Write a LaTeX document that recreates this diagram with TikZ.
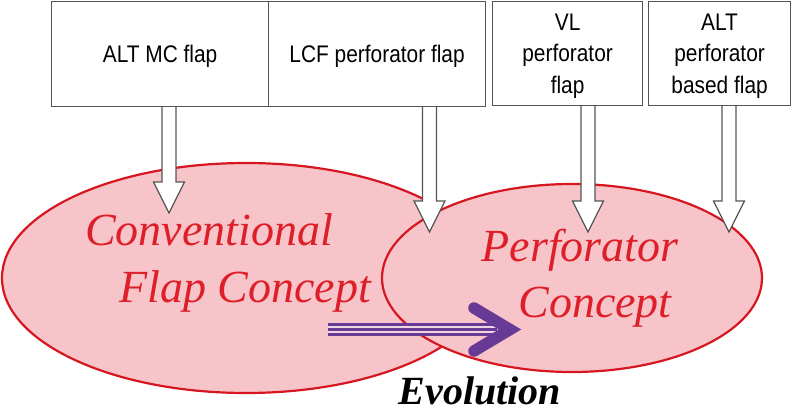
\documentclass[tikz,border=0pt]{standalone}
\usepackage{fontspec}
\setmainfont{Liberation Serif}
\newfontfamily\boxfont[FakeStretch=0.87]{Liberation Sans}
\usetikzlibrary{shapes.geometric,calc}
\definecolor{boxgray}{RGB}{85,85,85}
\definecolor{ellred}{RGB}{214,22,32}
\definecolor{txtred}{RGB}{222,30,40}
\definecolor{ellpink}{RGB}{247,197,201}
\definecolor{evpurple}{RGB}{103,58,150}
\definecolor{evlight}{RGB}{240,214,226}
\newcommand\blockarr[2]{\draw[barrow] let \p1=(#1), \p2=(#2) in
  (\x2-7pt,\y1) -- (\x2-7pt,\y2+31pt) -- (\x2-15.5pt,\y2+31pt) -- (\x2,\y2) --
  (\x2+15.5pt,\y2+31pt) -- (\x2+7pt,\y2+31pt) -- (\x2+7pt,\y1);}
\begin{document}
\begin{tikzpicture}[x=1pt,y=-1pt,
  flapbox/.style={draw=boxgray, line width=1.2pt, fill=white, inner sep=0pt,
    align=center, font=\boxfont\fontsize{24}{31.5}\selectfont, text depth=0pt,
    anchor=north west},
  concept/.style={ellipse, draw=ellred, line width=2.2pt, fill=ellpink, inner sep=0pt},
  barrow/.style={draw=boxgray, line width=1.2pt, fill=white, line join=miter},
  ctext/.style={text=txtred, font=\itshape\fontsize{46}{50}\selectfont, anchor=base, inner sep=0pt},
  evtext/.style={font=\bfseries\itshape\fontsize{40}{44}\selectfont, anchor=base, inner sep=0pt},
]
\useasboundingbox (0,0) rectangle (792,412);
% boxes
\node[flapbox, minimum width=217pt, minimum height=105pt] (b1) at (51,1) {ALT MC flap};
\node[flapbox, minimum width=217pt, minimum height=105pt] (b2) at (268,1) {LCF perforator flap};
\node[flapbox, minimum width=150pt, minimum height=104pt] (b3) at (492,1) {VL\\perforator\\flap};
\node[flapbox, minimum width=142pt, minimum height=104pt] (b4) at (648,1) {ALT\\perforator\\based flap};
% concept ellipses
\node[concept, minimum width=488pt, minimum height=230pt] (conv) at (246,278) {};
\node[concept, minimum width=380pt, minimum height=188pt] (perf) at (572,278) {};
% block arrows
\coordinate (t1) at (169,213);
\coordinate (t2) at (429.5,232);
\coordinate (t3) at (588,232);
\coordinate (t4) at (729,232);
\blockarr{t1 |- b1.south}{t1}
\blockarr{t2 |- b2.south}{t2}
\blockarr{t3 |- b3.south}{t3}
\blockarr{t4 |- b4.south}{t4}
% texts
\node[ctext] (c1) at (209,245) {Conventional};
\node[ctext] (c2) at (245,302) {Flap Concept};
\node[ctext] (p1) at (580,261) {Perforator};
\node[ctext] (p2) at (595,317) {Concept};
\node[evtext] (ev) at (480,404) {Evolution};
% evolution arrow
\coordinate (ps) at (328,329.5);
\coordinate (pe) at (497,329.5);
\coordinate (pa) at (474,308);
\coordinate (ptip) at (510,329.5);
\coordinate (pb) at (474,351);
\draw[evpurple, line width=13.3pt] (ps) -- (pe);
\draw[evlight, line width=2.4pt] ([yshift=2.7pt]ps) -- ([yshift=2.7pt]pe);
\draw[evlight, line width=2.4pt] ([yshift=-2.7pt]ps) -- ([yshift=-2.7pt]pe);
\draw[evpurple, line width=11.5pt, line cap=round, line join=miter] (pa) -- (ptip) -- (pb);
\end{tikzpicture}
\end{document}
